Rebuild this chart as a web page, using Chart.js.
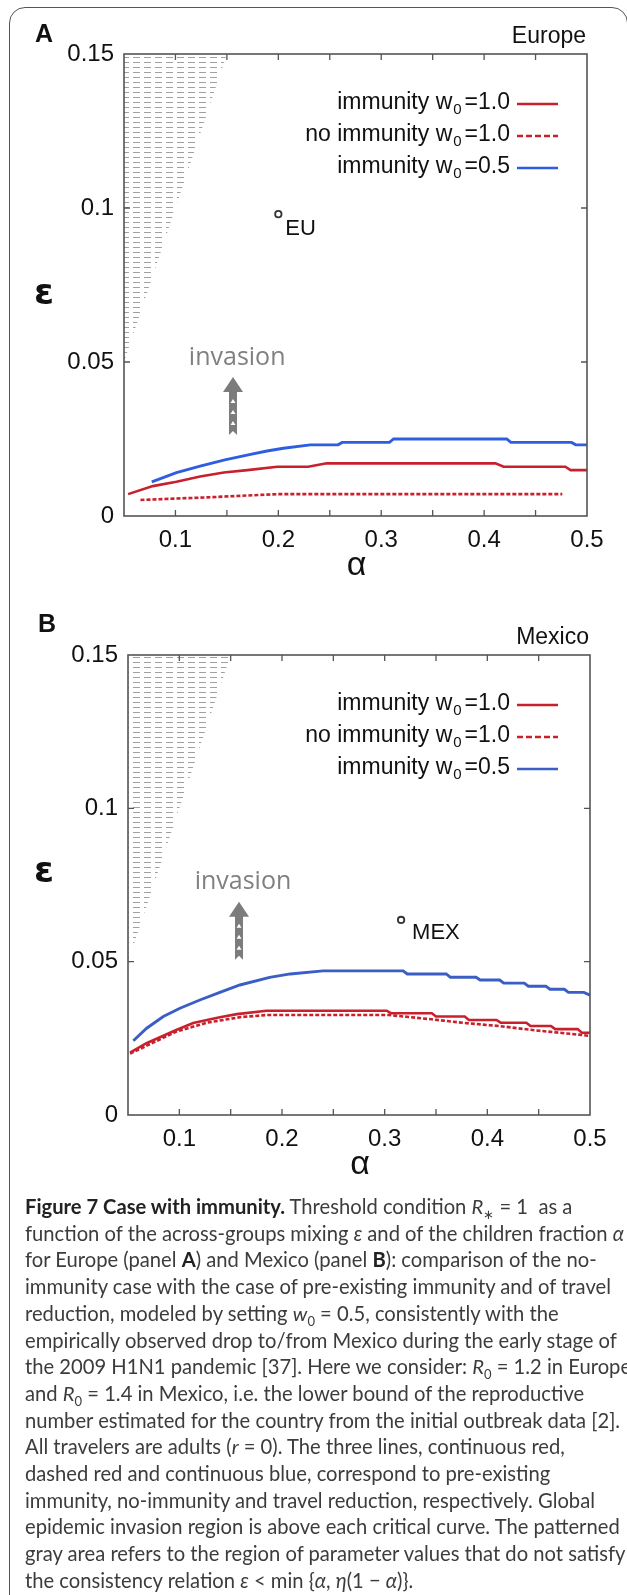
<!DOCTYPE html>
<html>
<head>
<meta charset="utf-8">
<script src="https://cdn.jsdelivr.net/npm/chart.js@4.4.1/dist/chart.umd.min.js"></script>
<style>
body{margin:0;background:#fff;width:627px;height:1595px;overflow:hidden;position:relative;font-family:'Liberation Sans',Arial,sans-serif}
#frame{position:absolute;left:9px;top:7px;width:619px;height:1640px;border:1.5px solid #555;border-radius:16px;box-sizing:border-box}
canvas{position:absolute;left:0}
#chartA{top:0}
#chartB{top:600px}
#capt{position:absolute;left:25px;top:1193px;font-family:Lato,sans-serif;font-size:20.2px;line-height:26.7px;color:#3c3c3c;white-space:nowrap}
#capt b{color:#222}
#capt sub{font-size:13px;line-height:0}
</style>
</head>
<body>
<div id="frame"></div>
<canvas id="chartA" width="627" height="600"></canvas>
<canvas id="chartB" width="627" height="600"></canvas>
<div id="capt">
<div><b>Figure 7 Case with immunity.</b> Threshold condition <i>R</i><sub>∗</sub> = 1&nbsp; as a</div>
<div>function of the across-groups mixing <i>ε</i> and of the children fraction <i>α</i></div>
<div>for Europe (panel <b>A</b>) and Mexico (panel <b>B</b>): comparison of the no-</div>
<div>immunity case with the case of pre-existing immunity and of travel</div>
<div>reduction, modeled by setting <i>w</i><sub>0</sub> = 0.5, consistently with the</div>
<div>empirically observed drop to/from Mexico during the early stage of</div>
<div>the 2009 H1N1 pandemic [37]. Here we consider: <i>R</i><sub>0</sub> = 1.2 in Europe</div>
<div>and <i>R</i><sub>0</sub> = 1.4 in Mexico, i.e. the lower bound of the reproductive</div>
<div>number estimated for the country from the initial outbreak data [2].</div>
<div>All travelers are adults (<i>r</i> = 0). The three lines, continuous red,</div>
<div>dashed red and continuous blue, correspond to pre-existing</div>
<div>immunity, no-immunity and travel reduction, respectively. Global</div>
<div>epidemic invasion region is above each critical curve. The patterned</div>
<div>gray area refers to the region of parameter values that do not satisfy</div>
<div>the consistency relation <i>ε</i> &lt; min {<i>α</i>, <i>η</i>(1 − <i>α</i>)}.</div>
</div>
<script>
'use strict';
// axis ticks
var alphaTicks=[0.1,0.2,0.3,0.4,0.5];
var epsTicks=[0,0.05,0.1,0.15];

// panel A - Europe
var euImmAlpha=[0.054,0.078,0.101,0.124,0.147,0.170,0.199,0.229,0.247,0.411,0.419,0.479,0.484,0.5];
var euImmEps=[0.0071,0.0097,0.0111,0.0128,0.0141,0.0149,0.0160,0.0160,0.0171,0.0171,0.0160,0.0160,0.0149,0.0149];
var euNoImmAlpha=[0.066,0.134,0.199,0.476];
var euNoImmEps=[0.0052,0.0061,0.0071,0.0071];
var euHalfAlpha=[0.077,0.101,0.124,0.148,0.173,0.189,0.205,0.231,0.258,0.262,0.308,0.312,0.422,0.426,0.485,0.489,0.5];
var euHalfEps=[0.0111,0.0141,0.0162,0.0182,0.0200,0.0211,0.0220,0.0231,0.0231,0.0239,0.0239,0.0250,0.0250,0.0239,0.0239,0.0231,0.0231];
var euPoint=[0.2,0.098];

// panel B - Mexico
var mxImmAlpha=[0.052,0.068,0.097,0.1135,0.127,0.1395,0.156,0.185,0.302,0.306,0.346,0.35,0.378,0.382,0.409,0.413,0.438,0.442,0.462,0.466,0.488,0.492,0.5];
var mxImmEps=[0.0203,0.0234,0.0277,0.0300,0.0310,0.0319,0.0329,0.0340,0.0340,0.0332,0.0332,0.0321,0.0321,0.0310,0.0310,0.0301,0.0301,0.0290,0.0290,0.0280,0.0280,0.0268,0.0268];
var mxNoImmAlpha=[0.052,0.097,0.127,0.159,0.185,0.304,0.346,0.378,0.412,0.444,0.477,0.5];
var mxNoImmEps=[0.0200,0.0272,0.0301,0.0319,0.0326,0.0326,0.0312,0.0300,0.0290,0.0277,0.0266,0.0258];
var mxHalfAlpha=[0.0552,0.0682,0.0844,0.1006,0.120,0.1395,0.159,0.188,0.208,0.240,0.318,0.322,0.360,0.364,0.389,0.393,0.412,0.416,0.436,0.440,0.457,0.461,0.475,0.479,0.494,0.5];
var mxHalfEps=[0.0242,0.0283,0.0321,0.0348,0.0375,0.0400,0.0424,0.0449,0.0460,0.0470,0.0470,0.0460,0.0460,0.0449,0.0449,0.0440,0.0440,0.0430,0.0430,0.0420,0.0420,0.0410,0.0410,0.0400,0.0400,0.0391];
var mxPoint=[0.316,0.0636];

// region where eps > alpha (not consistent)
var hatchAlpha=[0.05,0.15];
var hatchEps=[0.05,0.15];

var RED='#c8202c';
var BLUE_A='#2f5de0';
var BLUE_B='#3a5ec4';

function pts(a,e){
  return a.map(function(v,i){return {x:v,y:e[i]};});
}

function hatchPattern(ctx){
  var c=document.createElement('canvas');
  c.width=11;c.height=5;
  var g=c.getContext('2d');
  g.strokeStyle='#a0a0a0';
  g.lineWidth=1;
  g.beginPath();g.moveTo(1,2.5);g.lineTo(8,2.5);g.stroke();
  return ctx.createPattern(c,'repeat');
}

function drawArrow(ctx,x,yTop,yBot){
  ctx.fillStyle='#7c7c7c';
  ctx.beginPath();
  ctx.moveTo(x,yTop);ctx.lineTo(x+10,yTop+15);ctx.lineTo(x-10,yTop+15);
  ctx.closePath();ctx.fill();
  ctx.beginPath();
  ctx.moveTo(x-4,yTop+14);ctx.lineTo(x+4,yTop+14);ctx.lineTo(x+4,yBot);
  ctx.lineTo(x,yBot-4);ctx.lineTo(x-4,yBot);ctx.closePath();ctx.fill();
  ctx.fillStyle='#fff';
  for(var y=yTop+22;y<yBot-5;y+=11){
    ctx.beginPath();
    ctx.moveTo(x,y);ctx.lineTo(x+2.5,y+4);ctx.lineTo(x-2.5,y+4);
    ctx.closePath();ctx.fill();
  }
}

var panelDecor={
  id:'panelDecor',
  afterDatasetsDraw:function(chart,args,o){
    var ctx=chart.ctx,a=chart.chartArea,xs=chart.scales.x,ys=chart.scales.y;
    ctx.save();
    // frame + inward ticks
    ctx.strokeStyle='#555';ctx.lineWidth=1.6;
    ctx.strokeRect(a.left,a.top,a.right-a.left,a.bottom-a.top);
    ctx.lineWidth=1.3;
    ctx.beginPath();
    xs.ticks.forEach(function(t){
      var px=xs.getPixelForValue(t.value);
      if(px<=a.left+1||px>=a.right-1)return;
      ctx.moveTo(px,a.bottom);ctx.lineTo(px,a.bottom-6);
      ctx.moveTo(px,a.top);ctx.lineTo(px,a.top+6);
    });
    ys.ticks.forEach(function(t){
      var py=ys.getPixelForValue(t.value);
      if(py<=a.top+1||py>=a.bottom-1)return;
      ctx.moveTo(a.left,py);ctx.lineTo(a.left+6,py);
      ctx.moveTo(a.right,py);ctx.lineTo(a.right-6,py);
    });
    ctx.stroke();

    // panel letter and region name
    ctx.fillStyle='#111';
    ctx.textBaseline='middle';
    ctx.font='bold 25px "Liberation Sans"';
    ctx.textAlign='left';
    ctx.fillText(o.letter,o.letterX,a.top-o.letterDy);
    ctx.font='23px "Liberation Sans"';
    ctx.textAlign='right';
    ctx.fillText(o.region,a.right-1,a.top-17);

    // axis titles
    ctx.textAlign='center';
    ctx.font='34px "Liberation Sans"';
    ctx.fillText('α',xs.getPixelForValue(0.275)+1,a.bottom+50);
    ctx.font='bold 36px "DejaVu Sans"';
    ctx.fillText('ε',44,ys.getPixelForValue(o.epsY));

    // country label
    var pp=o.point;
    ctx.font='22px "Liberation Sans"';
    ctx.textAlign='left';
    ctx.fillText(o.pointLabel,xs.getPixelForValue(pp[0])+o.labelDx,ys.getPixelForValue(pp[1])+o.labelDy);

    // invasion arrow
    ctx.fillStyle='#808080';
    ctx.textAlign='center';
    ctx.font='25px "Open Sans"';
    ctx.fillText('invasion',xs.getPixelForValue(o.inv[0]),ys.getPixelForValue(o.inv[1]));
    drawArrow(ctx,Math.round(xs.getPixelForValue(o.arrow[0])),ys.getPixelForValue(o.arrow[1]),ys.getPixelForValue(o.arrow[2]));

    // legend
    var rows=[{t:'immunity w',v:'=1.0',ds:1},{t:'no immunity w',v:'=1.0',ds:2},{t:'immunity w',v:'=0.5',ds:3}];
    var offs=[49,81,113];
    var right=a.right-o.legendGap;
    rows.forEach(function(r,i){
      var y=a.top+offs[i];
      var ds=chart.data.datasets[r.ds];
      ctx.fillStyle='#111';
      ctx.textAlign='left';
      ctx.font='23px "Liberation Sans"';
      var wv=ctx.measureText(r.v).width;
      var wt=ctx.measureText(r.t).width;
      ctx.font='15px "Liberation Sans"';
      var ws=ctx.measureText('0').width;
      var x0=right-wv-ws-4-wt;
      ctx.font='23px "Liberation Sans"';
      ctx.fillText(r.t,x0,y);
      ctx.fillText(r.v,right-wv,y);
      ctx.font='15px "Liberation Sans"';
      ctx.fillText('0',x0+wt+1,y+7);
      ctx.strokeStyle=ds.borderColor;
      ctx.lineWidth=2.6;
      ctx.setLineDash(r.ds===2?[6,3]:[]);
      ctx.beginPath();
      ctx.moveTo(right+7,y+1);ctx.lineTo(right+48,y+1);
      ctx.stroke();
      ctx.setLineDash([]);
    });
    ctx.restore();
  }
};

function makeChart(id,s,o,pad){
  var ctx=document.getElementById(id).getContext('2d');
  return new Chart(ctx,{
    type:'line',
    data:{
      datasets:[
        {label:'hatch',data:pts(hatchAlpha,hatchEps),borderWidth:0,pointRadius:0,fill:'end',backgroundColor:hatchPattern(ctx),order:5},
        {label:'immunity w0=1.0',data:s.imm,borderColor:RED,borderWidth:2.6,pointRadius:0,fill:false},
        {label:'no immunity w0=1.0',data:s.noImm,borderColor:RED,borderWidth:2.6,borderDash:[4,2],pointRadius:0,fill:false},
        {label:'immunity w0=0.5',data:s.half,borderColor:s.blue,borderWidth:2.9,pointRadius:0,fill:false},
        {label:o.pointLabel,data:[{x:o.point[0],y:o.point[1]}],showLine:false,pointRadius:3.2,pointBorderWidth:1.8,borderColor:'#333',backgroundColor:'#fff'}
      ]
    },
    options:{
      responsive:false,
      animation:false,
      devicePixelRatio:1,
      layout:{padding:{left:0,right:pad.right,top:pad.top,bottom:0}},
      plugins:{legend:{display:false},tooltip:{enabled:false},panelDecor:o},
      scales:{
        x:{
          type:'linear',min:0.05,max:0.5,
          afterFit:function(sc){sc.height=pad.xh;},
          grid:{display:false,drawTicks:false},
          border:{display:false},
          afterBuildTicks:function(sc){
            var t=[];
            for(var i=1;i<=10;i++)t.push({value:Math.round(i*5)/100});
            sc.ticks=t;
          },
          ticks:{
            padding:10,color:'#111',font:{family:'Liberation Sans',size:24},maxRotation:0,autoSkip:false,
            callback:function(v){return alphaTicks.indexOf(Math.round(v*100)/100)>=0?v.toFixed(1):'';}
          }
        },
        y:{
          type:'linear',min:0,max:0.15,
          afterFit:function(sc){sc.width=pad.yw;},
          grid:{display:false,drawTicks:false},
          border:{display:false},
          afterBuildTicks:function(sc){sc.ticks=epsTicks.map(function(v){return {value:v};});},
          ticks:{padding:10,color:'#111',font:{family:'Liberation Sans',size:24},
            callback:function(v){return String(Math.round(v*100)/100);}
          }
        }
      }
    },
    plugins:[panelDecor]
  });
}

makeChart('chartA',
  {imm:pts(euImmAlpha,euImmEps),noImm:pts(euNoImmAlpha,euNoImmEps),half:pts(euHalfAlpha,euHalfEps),blue:BLUE_A},
  {letter:'A',letterX:35,letterDy:19,region:'Europe',point:euPoint,pointLabel:'EU',labelDx:7,labelDy:15,
   inv:[0.160,0.0513],arrow:[0.156,0.0451,0.0263],legendGap:77,epsY:0.072},
  {right:40,top:54,xh:84,yw:124});

makeChart('chartB',
  {imm:pts(mxImmAlpha,mxImmEps),noImm:pts(mxNoImmAlpha,mxNoImmEps),half:pts(mxHalfAlpha,mxHalfEps),blue:BLUE_B},
  {letter:'B',letterX:38,letterDy:30,region:'Mexico',point:mxPoint,pointLabel:'MEX',labelDx:11,labelDy:13,
   inv:[0.162,0.076],arrow:[0.158,0.0695,0.0506],legendGap:80,epsY:0.079},
  {right:37,top:55,xh:85,yw:128});
</script>
</body>
</html>
